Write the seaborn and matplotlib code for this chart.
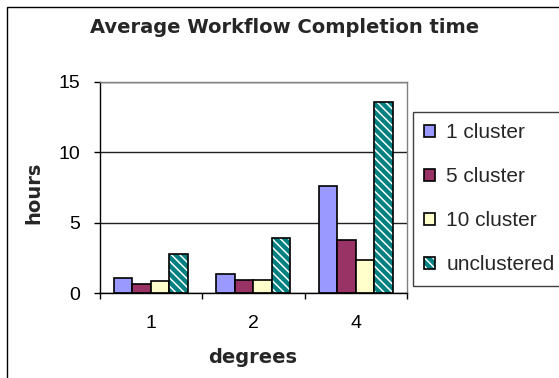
import matplotlib
matplotlib.use("Agg")
import matplotlib.pyplot as plt
import matplotlib.colors as mcolors
from matplotlib.patches import Rectangle
from matplotlib.ticker import FixedLocator
import seaborn as sns
import pandas as pd

# ---- data ----
degrees = ["1", "2", "4"]
series_names = ["1 cluster", "5 cluster", "10 cluster", "unclustered"]
one_cluster = [1.1, 1.37, 7.6]
five_cluster = [0.65, 0.95, 3.8]
ten_cluster = [0.83, 0.95, 2.37]
unclustered = [2.8, 3.93, 13.6]
yticks = [0, 5, 10, 15]
title = "Average Workflow Completion time"
xlabel = "degrees"
ylabel = "hours"

colors = ["#9999FF", "#993366", "#FFFFCC", "#008080"]

rows = []
for name, vals in zip(series_names, [one_cluster, five_cluster, ten_cluster, unclustered]):
    for d, v in zip(degrees, vals):
        rows.append({"degree": d, "series": name, "hours": v})
df = pd.DataFrame(rows)

sns.set_style("white")
plt.rcParams["font.family"] = ["Liberation Sans", "DejaVu Sans"]
plt.rcParams["hatch.linewidth"] = 1.1

W, H = 559, 378
fig = plt.figure(figsize=(W / 100, H / 100), dpi=100)
fig.patch.set_facecolor("white")

ax_l, ax_r, ax_t, ax_b = 99.5, 407.0, 82.0, 293.0
ax = fig.add_axes([ax_l / W, (H - ax_b) / H, (ax_r - ax_l) / W, (ax_b - ax_t) / H])

sns.barplot(data=df, x="degree", y="hours", hue="series", order=degrees,
            hue_order=series_names, palette=colors, width=0.72, gap=0,
            saturation=1, edgecolor="black", linewidth=1.2, legend=False, ax=ax)

# hatch for unclustered
for p in ax.containers[3]:
    p.set_facecolor("#008080")
    p.set_hatch("\\\\\\\\")
    p.set_edgecolor("black")
    p._hatch_color = mcolors.to_rgba("white")

ax.set_ylim(0, 15)
ax.set_xlim(-0.5, 2.5)
ax.set_yticks(yticks)
ax.set_yticklabels([str(t) for t in yticks])
ax.set_xlabel("")
ax.set_ylabel("")

# grid lines
ax.yaxis.grid(True, color="#202020", linewidth=1.0)
ax.set_axisbelow(True)

for s in ["left", "bottom"]:
    ax.spines[s].set_color("black")
    ax.spines[s].set_linewidth(1.0)
for s in ["top", "right"]:
    ax.spines[s].set_color("#808080")
    ax.spines[s].set_linewidth(1.0)

ax.tick_params(axis="y", which="major", direction="out", length=4.5, width=1.0,
               color="black", left=True, pad=9.5, labelsize=14, labelcolor="black")
ax.tick_params(axis="x", which="major", length=0, pad=16, labelsize=14, labelcolor="black")
ax.xaxis.set_minor_locator(FixedLocator([-0.5, 0.5, 1.5, 2.5]))
ax.tick_params(axis="x", which="minor", direction="out", length=4.5, width=1.0,
               color="black", bottom=True)

# legend
leg = ax.legend(handles=ax.containers, labels=series_names, loc="upper left",
                bbox_to_anchor=(413 / W, (H - 112) / H), bbox_transform=fig.transFigure,
                borderaxespad=0, frameon=True, fancybox=False, shadow=False,
                fontsize=15, handlelength=0.5, handleheight=0.5, handletextpad=0.55,
                labelspacing=1.2, borderpad=0.55)
leg.get_frame().set_edgecolor("#404040")
leg.get_frame().set_linewidth(1.0)
leg.get_frame().set_facecolor("white")
leg.get_frame().set_alpha(1)

# texts
fig.text(285 / W, (H - 32.7) / H, title, ha="center", va="baseline",
         fontsize=14, fontweight="bold", family="DejaVu Sans")
fig.text(253 / W, (H - 363.3) / H, xlabel, ha="center", va="baseline",
         fontsize=14, fontweight="bold", family="DejaVu Sans")
fig.text(34 / W, (H - 192.5) / H, ylabel, ha="center", va="center", rotation=90,
         fontsize=14, fontweight="bold", family="DejaVu Sans")

# outer chart-area frame
fig.patches.append(Rectangle((7 / W, -0.2), 1.2, (H - 7) / H + 0.2,
                             transform=fig.transFigure, fill=False,
                             edgecolor="black", linewidth=1.0, figure=fig))

fig.savefig("out.png", dpi=100, facecolor="white")
